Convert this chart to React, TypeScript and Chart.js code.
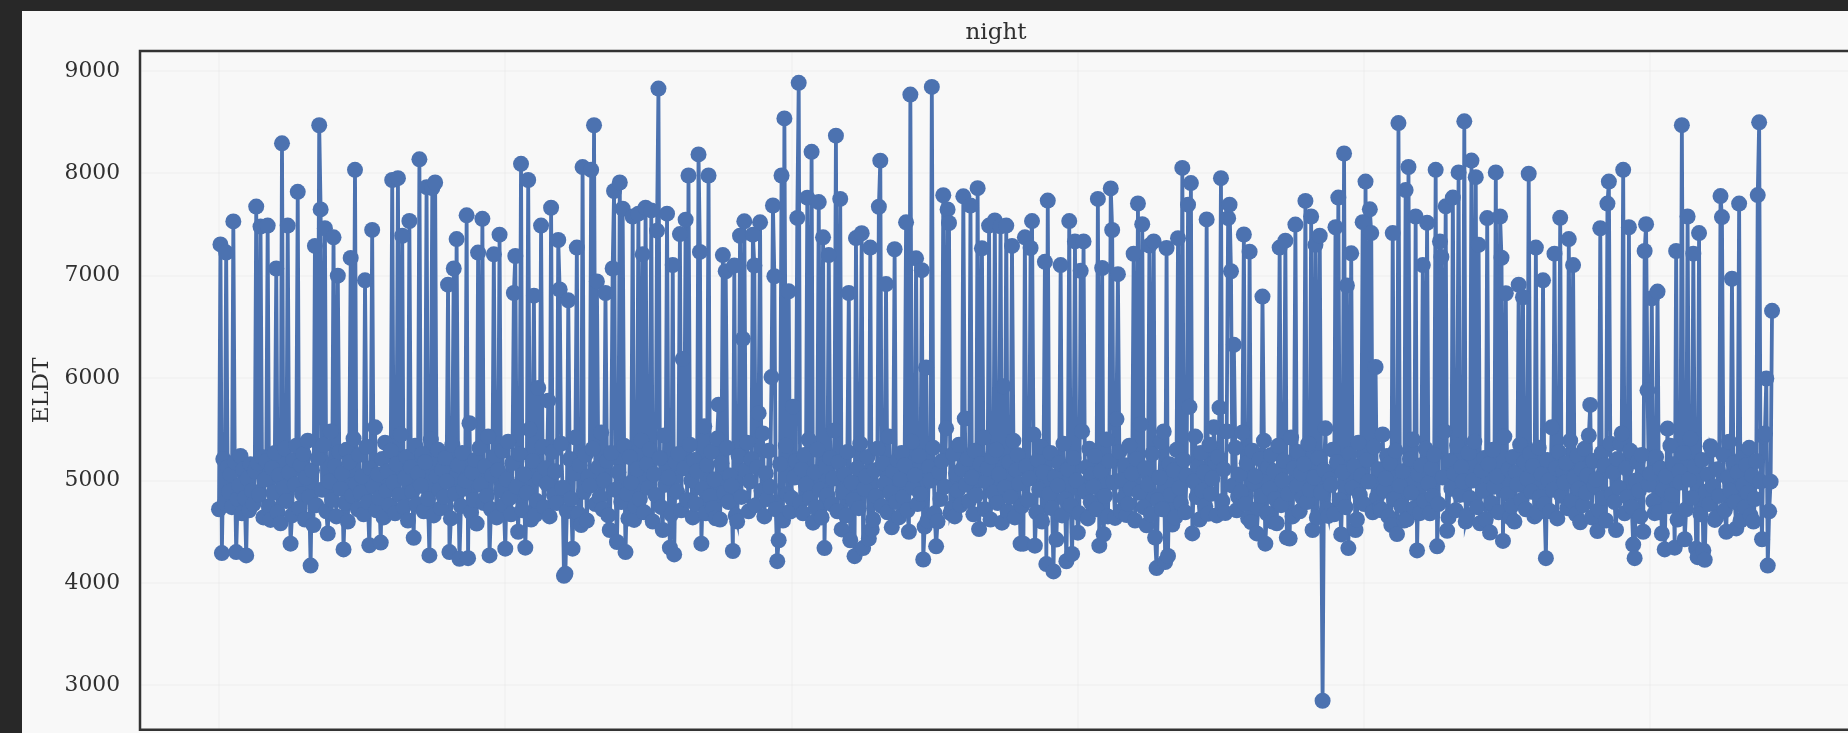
import React, { useEffect, useRef } from "react";
import { Chart, registerables } from "chart.js";

Chart.register(...registerables);

const chartTitle = "night";
const yAxisLabel = "ELDT";

const highIndex = [1,5,10,26,29,34,40,44,48,55,67,70,71,74,80,83,92,95,102,107,121,125,128,133,140,145,149,151,160,164,166,173,181,184,
192,196,206,207,211,216,220,223,225,230,232,237,238,244,250,254,260,262,264,270,275,276,280,282,289,293,296,298,302,306,307,313,317,322,324,326,328,335,336,342,349,352,354,360,364,366,367,
373,374,377,378,386,387,388,393,395,398,401,404,405,411,414,419,422,426,431,434,440,445,449,455,461,462,466,472,480,483,487,491,494,498,506,509,510,520,521,525,530,533,538,542,546,548,550,554,
563,567,568,577,579,588,594,598,602,604,614,617,623,624,627,628,639,642,645,650,653,660,662,670,673,677,678,679,690,695,699,700,704,705,706,707,709,716,720,729,741,745,
752,759,763,766,769,771,780,782,786,788,791,799,801,804,805,808,820,824,829,831,836,841,844,850,853,854,857,862,866,870,875,878,880,886,892,895,896,899,908,911,915,920,925,933,937,
943,946,958,965,970,971,979,981,985,996,997,998,1001,1005,1012,1018,1022,1026,1030,1034,1042,1049,1050,1057,1062,1075,1076,1079,1081,1085];

const highValue = [7306,7226,7531,7676,7480,7490,7071,8293,7490,7820,7291,8470,7648,7464,7375,7001,7174,8035,6955,7448,7935,7953,7391,7535,8137,7865,7855,7911,6913,7071,7358,7590,7226,7556,
7209,7401,6832,7193,8093,7935,6806,5905,7490,5780,7664,7349,6866,6760,7275,8061,8035,8470,6945,6832,7071,7828,7911,7655,7579,7606,7209,7664,7638,7440,8828,7606,7105,7407,6186,7548,7979,8185,7233,7979,5741,7202,7044,7100,7391,6384,7532,
7401,7100,5658,7522,6011,7686,6995,7979,8537,6848,5722,7565,8884,7763,8210,7720,7375,7202,8368,7750,6832,7368,7415,7275,7674,8124,6919,7259,7522,8769,7170,7055,6104,8844,7786,7648,7515,7776,5605,7686,7855,7268,7490,7540,7483,5921,7490,7291,
7375,7271,7534,7136,7734,7104,7534,7335,7048,7335,7750,7076,7853,7447,5600,7016,7215,7706,7503,7295,7335,5480,7271,7367,8053,7694,5720,7905,7550,5520,5712,7953,5480,7562,7694,7044,6326,7403,7235,6797,7275,7343,
7500,7731,7579,7302,7391,2850,7474,7764,8194,6905,7219,7523,7920,7649,7417,6109,7417,8491,7837,8062,7579,7104,7517,8035,7335,7183,7678,7764,8009,8508,8125,7963,7302,7563,8009,7579,7176,6829,6912,6790,7996,7275,6955,7216,7566,
7358,7104,5739,7464,7705,7920,5359,8035,7474,7242,7503,5881,6780,6846,5508,7242,8471,7579,7216,7417,5336,7778,7573,6971,7705,7788,8498,5432,5997,6658];

const dipIndex = [2,12,19,36,43,50,64,66,76,87,105,113,136,147,161,168,174,189,200,209,214,221,241,242,247,253,273,278,282,284,290,310,315,318,337,347,359,362,
390,391,399,400,415,423,435,441,444,450,454,456,470,482,492,493,501,502,511,531,547,560,
562,570,578,583,585,592,596,600,615,618,626,634,648,654,655,661,663,666,680,691,703,712,721,725,731,739,746,748,
764,775,784,789,794,811,819,823,830,837,839,851,858,871,881,888,897,902,921,927,
951,963,976,988,989,995,1003,1008,1010,1017,1024,1032,1033,1037,1038,1045,1053,1060,1072,1078,1082,1084];

const dipValue = [4292,4302,4269,4616,4583,4384,4170,4566,4483,4328,4368,4394,4441,4269,4302,4236,4242,4269,4335,4500,4345,4665,4070,4090,4335,4566,4517,4400,4450,4302,4616,4517,4345,4279,4384,4632,4312,4600,
4213,4417,4698,4830,4589,4341,4523,4417,4262,4341,4434,4523,4543,4500,4229,4550,4358,4600,4682,4526,4589,4384,
4384,4364,4184,4113,4424,4212,4284,4491,4364,4476,4635,4663,4563,4444,4145,4205,4264,4571,4484,4675,4683,4843,4595,4484,4384,4583,4444,4434,
4517,4655,4474,4341,4517,4731,4566,4477,4622,4318,4682,4358,4510,4600,4583,4493,4411,4642,4682,4242,
4593,4507,4517,4375,4242,4500,4682,4483,4328,4345,4427,4335,4252,4318,4226,4616,4500,4533,4600,4427,4170,4989];

const bandValues = [4720,5210,4780,5130,4890,5060,4740,5180,4820,4950,5240,4680,5110,4830,5020,4710,5160,4900,4770,5090,
5170,4860,5230,4640,5010,5190,4750,5120,4880,5270,4690,5050,4930,5310,4800,5080,4660,5200,4960,5340,
4730,5150,4870,5260,4620,5030,5390,4840,5100,4760,5220,4910,5350,4700,4990,5480,4810,5140,4650,5280,
4920,5070,4780,5300,4600,5180,4850,5410,4970,4720,5250,4880,5040,4670,5330,4790,5120,4940,5520,4710,
5060,4830,5210,4640,5370,4900,5090,4760,5290,4980,4680,5160,4860,5450,4740,5020,5230,4610,5130,4890,
5340,4770,5070,4950,5260,4700,5180,4820,5400,4660,5040,5300,4910,4730,5110,4840,5220,4990,4630,5350,
4870,5150,4750,5270,4920,5000,5560,4690,5080,4810,5200,4580,5320,4960,4780,5140,4850,5430,4720,5050,
5240,4640,5100,4900,5290,4760,5010,5380,4830,4670,5170,4940,5260,4710,5060,4880,5500,4620,5190,4800,
5020,5330,4740,5120,4970,4650,5280,4860,5090,4780,5360,4930,4700,5210,4820,5070,5420,4680,5150,4890,
5250,4610,5040,4950,5310,4770,5130,4840,5470,4720,5000,5190,4660,5270,4910,5080,4790,5340,4870,4630,
5230,4980,4750,5110,4820,5390,4690,5160,4930,5300,4600,5060,4860,5220,4740,5440,4960,5030,4670,5180,
4890,5260,4710,5120,4810,5350,5000,4640,5200,4770,5090,4920,5530,4680,5150,4850,5280,4730,5010,5410,
4620,5170,4880,5320,4790,5050,4950,4660,5240,4840,5100,5370,4700,4990,5210,4760,5130,4900,5460,4650,
5070,4820,5290,4940,4720,5160,4610,5340,4870,5030,5190,4780,5110,4680,5250,4960,5400,4830,5080,4740,
5300,4910,4640,5140,4860,5220,4770,5020,5490,4700,5180,4890,5060,4660,5280,4980,4810,5120,4730,5360,
4920,5040,5230,4620,5100,4850,5310,4750,5170,4970,4690,5430,4880,5090,4790,5200,4640,5010,5270,4840,
5150,4710,5380,4930,5050,4770,5240,4870,4610,5130,5000,5320,4680,5080,4820,5190,4940,5510,4730,5260,
4650,5070,4900,5350,4760,5110,4960,5210,4800,5030,4670,5290,4860,5160,5420,4720,4990,5120,4620,5230,
4880,5300,4780,5060,4930,4700,5180,4840,5390,4640,5100,5250,4970,4750,5140,4810,5020,5450,4690,5200,
4910,5330,4600,5080,4870,5270,4730,5040,4950,5170,4660,5360,4820,5110,4760,5220,5000,4680,5480,4890,
5130,4630,5310,4790,5060,4940,5240,4720,5090,4850,5400,4650,5190,4980,5280,4700,5010,4830,5150,4770,
5340,4920,5070,4610,5210,4880,5550,4740,5120,4960,4670,5260,4810,5030,5380,4720,5160,4860,5100,4640,
5300,4930,4780,5200,4690,5050,4990,5430,4840,5140,4620,5270,4900,5080,4750,5350,4870,5020,5180,4660,
5230,4800,5110,4950,5320,4710,5060,4890,5470,4770,5170,4630,5290,4980,5040,4730,5210,4850,5390,4680,
5130,4920,5250,4600,5090,4820,5340,4760,5000,5190,4870,5420,4650,5120,4940,5280,4700,5070,4830,5160,
4790,5360,4910,5030,4640,5220,4880,5100,5510,4720,5010,4960,5300,4670,5180,4810,5080,4740,5260,4930,
5140,4620,5370,4860,5050,4770,5200,4990,4690,5330,4840,5110,4710,5450,4900,5020,5240,4650,5170,4820,
5290,4950,4750,5090,4610,5210,4880,5400,4730,5060,5150,4800,5310,4970,4680,5120,4850,5250,4770,5030,
5480,4640,5190,4920,5070,4710,5340,4860,5130,4990,4660,5270,4830,5000,5380,4740,5100,4900,5220,4620,
5160,4780,5300,4940,5040,4690,5430,4870,5110,4750,5230,4600,5080,4960,5350,4810,5180,4720,5020,5260,
4890,5140,4650,5320,4840,5060,4770,5200,5000,4700,5520,4910,5120,4630,5280,4850,5090,4980,5170,4730,
5390,4800,5030,4670,5240,4920,5110,4760,5310,4880,5050,5440,4640,5190,4950,5010,4710,5270,4830,5150,
4610,5360,4870,5080,4790,5210,4930,5460,4680,5120,4840,5290,4740,5000,5180,4900,4650,5250,4960,5070,
4800,5230,4690,5120,4910,5040,4750,5340,4860,5160,4620,5090,4980,5270,4720,5010,5410,4830,5140,4670,
5200,4890,5060,4770,5300,4940,4640,5110,4850,5250,4710,5030,5380,4900,5170,4790,5080,4610,5220,4960,
4740,5150,4880,5320,4660,5050,4820,5190,4990,5460,4700,5100,4930,5280,4780,5020,4630,5240,4870,5130,
5070,4760,5360,4910,5180,4680,5000,4840,5260,4730,5120,4950,5430,4650,5090,4810,5210,4890,5040,4720,
5310,4970,4620,5160,4860,5070,4780,5240,4920,5110,4690,5350,4830,5020,5190,4750,5080,4640,5270,4900];

const xTicks = [0, 200, 400, 600, 800, 1000];
const yTicks = [3000, 4000, 5000, 6000, 7000, 8000, 9000];
const xBounds = [-55.2, 1223.3];
const yBounds = [2567, 9195];

function buildSeries() {
  const highs = new Map<number, number>();
  highIndex.forEach((idx, k) => highs.set(idx, highValue[k]));
  const dips = new Map<number, number>();
  dipIndex.forEach((idx, k) => dips.set(idx, dipValue[k]));
  const last = Math.max(...highIndex);
  const points: { x: number; y: number }[] = [];
  let next = 0;
  for (let i = 0; i <= last; i++) {
    if (highs.has(i)) points.push({ x: i, y: highs.get(i) as number });
    else if (dips.has(i)) points.push({ x: i, y: dips.get(i) as number });
    else if (next < bandValues.length) points.push({ x: i, y: bandValues[next++] });
  }
  return points;
}

const frame = {
  id: "frame",
  afterDraw(chart: Chart) {
    const { ctx, chartArea } = chart;
    ctx.save();
    ctx.strokeStyle = "#333333";
    ctx.lineWidth = 2.5;
    ctx.beginPath();
    ctx.moveTo(chartArea.right + 5, chartArea.top);
    ctx.lineTo(chartArea.left, chartArea.top);
    ctx.lineTo(chartArea.left, chartArea.bottom);
    ctx.lineTo(chartArea.right + 5, chartArea.bottom);
    ctx.stroke();
    ctx.restore();
  },
};

export default function App() {
  const ref = useRef<HTMLCanvasElement>(null);
  useEffect(() => {
    if (!ref.current) return;
    const family = '"DejaVu Serif"';
    const chart = new Chart(ref.current, {
      type: "line",
      data: {
        datasets: [
          {
            data: buildSeries(),
            borderColor: "#4C72B0",
            backgroundColor: "#4C72B0",
            borderWidth: 3.8,
            pointRadius: 8,
            pointBorderWidth: 0,
            pointBackgroundColor: "#4C72B0",
            tension: 0,
          },
        ],
      },
      options: {
        animation: false,
        responsive: false,
        maintainAspectRatio: false,
        devicePixelRatio: 1,
        layout: { autoPadding: false, padding: { top: 0, right: 0, bottom: 3.3, left: 0 } },
        plugins: {
          legend: { display: false },
          tooltip: { enabled: false },
          title: {
            display: true,
            text: chartTitle,
            color: "#303030",
            font: { family, size: 23, weight: "normal" },
            padding: { top: 8, bottom: 4.4 },
          },
        },
        scales: {
          x: {
            type: "linear",
            min: xBounds[0],
            max: xBounds[1],
            border: { display: false },
            grid: { color: "rgba(0,0,0,0.02)", lineWidth: 2, drawTicks: false },
            ticks: { display: false },
            afterBuildTicks(scale: any) {
              scale.ticks = xTicks.map((value) => ({ value }));
            },
            afterFit(scale: any) {
              scale.height = 0;
            },
          },
          y: {
            type: "linear",
            min: yBounds[0],
            max: yBounds[1],
            border: { display: false },
            grid: { color: "rgba(0,0,0,0.02)", lineWidth: 2, drawTicks: false },
            ticks: {
              padding: 20,
              color: "#303030",
              font: { family, size: 21.8 },
              callback: (v: number | string) => String(v),
            },
            afterBuildTicks(scale: any) {
              scale.ticks = yTicks.map((value) => ({ value }));
            },
            title: {
              display: true,
              text: yAxisLabel,
              color: "#303030",
              font: { family, size: 23, weight: "normal" },
              padding: { top: 6, bottom: 0 },
            },
            afterFit(scale: any) {
              scale.width = 118;
              scale.paddingTop = 0;
              scale.paddingBottom = 0;
            },
          },
        },
      },
      plugins: [frame],
    } as any);
    return () => chart.destroy();
  }, []);

  return (
    <div style={{ position: "fixed", inset: 0, background: "#282828", overflow: "hidden" }}>
      <canvas
        ref={ref}
        width={1948}
        height={722}
        style={{ position: "absolute", left: 22, top: 11, width: 1948, height: 722, background: "#f8f8f8", filter: "blur(0.6px)" }}
      />
    </div>
  );
}
